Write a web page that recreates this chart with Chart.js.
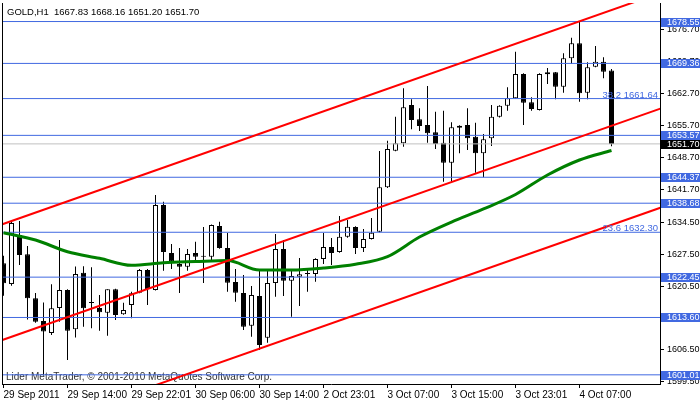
<!DOCTYPE html>
<html>
<head>
<meta charset="utf-8">
<script src="https://cdn.jsdelivr.net/npm/chart.js@4.4.1/dist/chart.umd.min.js"></script>
<style>
  html, body { margin: 0; padding: 0; background: #fff; }
  #wrap { width: 700px; height: 402px; }
</style>
</head>
<body>
<div id="wrap"><canvas id="goldChart" width="700" height="402"></canvas></div>
<script>
// GOLD H1 bars, one per hour, oldest first
const opens  = [1625.49,1620.94,1631.70,1627.46,1617.80,1612.82,1610.19,1615.67,1619.63,1610.99,
                1623.42,1616.80,1615.67,1614.64,1619.78,1614.29,1616.33,1619.03,1624.02,1619.63,
                1638.28,1627.75,1625.33,1624.74,1627.75,1626.93,1626.93,1633.67,1628.84,1621.38,
                1618.97,1611.79,1618.31,1609.15,1621.16,1628.62,1621.67,1622.55,1623.36,1623.14,
                1626.43,1629.06,1627.97,1631.32,1633.45,1628.84,1630.82,1632.42,1642.17,1650.20,
                1651.83,1660.23,1657.09,1655.84,1654.24,1651.96,1647.57,1655.25,1655.84,1653.27,
                1649.63,1652.92,1657.66,1660.08,1661.70,1667.04,1660.83,1659.13,1666.97,1667.41,
                1664.25,1670.48,1673.78,1662.93,1668.64,1669.74,1667.83];
const highs  = [1627.15,1634.99,1634.77,1629.28,1618.97,1616.88,1620.88,1630.60,1619.80,1624.78,
                1624.83,1624.61,1618.53,1619.78,1619.90,1616.84,1619.25,1624.24,1624.24,1640.48,
                1639.01,1629.72,1628.84,1628.62,1630.23,1633.45,1634.00,1634.62,1632.14,1624.24,
                1622.92,1620.50,1624.02,1624.02,1631.92,1630.60,1624.02,1626.65,1624.45,1626.60,
                1632.14,1631.04,1635.87,1634.99,1633.60,1633.01,1635.43,1650.14,1652.40,1657.66,
                1663.90,1661.48,1659.51,1664.40,1658.76,1658.98,1656.44,1655.80,1659.51,1656.35,
                1653.87,1660.23,1660.20,1664.12,1671.93,1667.20,1661.92,1667.19,1668.35,1667.50,
                1671.58,1675.01,1678.55,1669.61,1673.18,1670.70,1668.16];
const lows   = [1618.37,1620.57,1625.11,1613.15,1612.45,1601.01,1609.75,1612.67,1604.26,1609.20,
                1611.55,1611.22,1610.69,1609.59,1613.04,1614.20,1613.41,1618.90,1616.33,1619.50,
                1623.86,1624.24,1618.97,1623.86,1625.84,1621.16,1626.21,1628.70,1619.25,1617.06,
                1610.85,1609.37,1606.46,1608.06,1618.15,1618.31,1613.76,1616.11,1619.25,1621.45,
                1625.33,1625.11,1627.80,1631.10,1627.53,1627.97,1630.70,1632.30,1642.00,1650.10,
                1651.08,1654.90,1654.53,1651.96,1650.57,1643.40,1643.40,1649.63,1650.36,1645.37,
                1644.36,1651.23,1657.50,1658.98,1661.60,1655.84,1658.98,1659.00,1664.84,1661.48,
                1662.93,1669.23,1660.96,1661.48,1668.51,1666.09,1651.20];
const closes = [1621.10,1634.33,1627.31,1617.80,1612.67,1610.52,1615.61,1619.63,1610.69,1623.14,
                1615.61,1616.90,1614.73,1619.78,1614.14,1615.23,1618.90,1624.02,1619.85,1638.28,
                1627.97,1625.84,1624.74,1627.53,1626.93,1627.00,1633.89,1628.84,1621.23,1619.03,
                1611.57,1618.53,1607.55,1621.16,1628.62,1621.67,1622.70,1623.07,1623.14,1626.43,
                1629.06,1627.75,1631.32,1633.52,1628.84,1630.82,1632.20,1642.17,1650.57,1651.83,
                1659.73,1656.94,1655.62,1654.02,1651.67,1647.57,1655.34,1655.69,1652.92,1649.63,
                1652.70,1657.66,1660.08,1661.70,1667.04,1660.74,1659.36,1667.04,1667.41,1664.25,
                1670.48,1673.78,1662.80,1668.51,1669.74,1667.54,1651.70];

// moving average (green), read every 4 bars
const maIdx  = [0, 4, 8, 12, 16, 20, 24, 28, 32, 36, 40, 44, 48, 52, 56, 60, 64, 68, 72, 76];
const maVals = [1632.20,1630.60,1628.03,1626.58,1625.05,1625.62,1625.88,1626.10,1624.02,1624.02,
                1624.46,1625.29,1626.95,1631.26,1634.55,1637.41,1640.59,1644.87,1648.16,1650.24];

// red trend channel: price at bar -1 and bar 83
const chanIdx   = [-1, 83];
const chanUpper = [1633.54, 1685.39];
const chanMid   = [1608.14, 1659.99];
const chanLower = [1586.39, 1638.24];

// horizontal levels
const levels    = [1678.55, 1669.36, 1661.64, 1653.57, 1644.37, 1638.68, 1632.30, 1622.45, 1613.60, 1601.01];
const boxLevels = [1678.55, 1669.36, 1653.57, 1644.37, 1638.68, 1622.45, 1613.60, 1601.01];
const fibLevels = [1661.64, 1632.30];
const fibPct    = ['38.2', '23.6'];
const bid = 1651.70;

// axis ticks
const xTickIdx    = [0, 8, 16, 24, 32, 40, 48, 56, 64, 72];
const xTickLabels = ['29 Sep 2011', '29 Sep 14:00', '29 Sep 22:01', '30 Sep 06:00', '30 Sep 14:00',
                     '2 Oct 23:01', '3 Oct 07:00', '3 Oct 15:00', '3 Oct 23:01', '4 Oct 07:00'];
const yTicks = [1599.50, 1606.50, 1613.50, 1620.50, 1627.50, 1634.50, 1641.70, 1648.70, 1655.70, 1662.70, 1669.70, 1676.70];

const title = 'GOLD,H1  1667.83 1668.16 1651.20 1651.70';
const copyright = 'Lider MetaTrader, \u00a9 2001-2010 MetaQuotes Software Corp.';

const FONT = "'Liberation Sans', Arial, sans-serif";
const BLUE = '#4169e1';

Chart.defaults.font.family = FONT;
Chart.defaults.font.size = 9;
Chart.defaults.color = '#000';

function line(xs, ys, color, width) {
    return {
        type: 'line',
        data: xs.map((x, i) => ({x: x, y: ys[i]})),
        borderColor: color,
        borderWidth: width,
        pointRadius: 0,
        fill: false,
        tension: 0
    };
}

const levelSets = levels.map(v => line(chanIdx, [v, v], BLUE, 1));

const maSet = line(maIdx, maVals, '#008000', 3);
maSet.cubicInterpolationMode = 'monotone';

const bodies = {
    type: 'bar',
    data: opens.map((o, i) => ({x: i, y: [o, closes[i]]})),
    backgroundColor: opens.map((o, i) => closes[i] >= o ? '#ffffff' : '#000000'),
    borderColor: '#000',
    borderWidth: 1,
    borderSkipped: false,
    barThickness: 5,
    minBarLength: 1,
    inflateAmount: 0,
    grouped: false
};

const wicks = {
    type: 'bar',
    data: lows.map((l, i) => ({x: i, y: [l, highs[i]]})),
    backgroundColor: '#000',
    borderWidth: 0,
    barThickness: 1,
    inflateAmount: 0,
    grouped: false
};

// text and price boxes drawn like the terminal does
const overlay = {
    id: 'overlay',
    beforeDatasetsDraw(chart) {
        const ctx = chart.ctx;
        ctx.save();
        ctx.font = '10px ' + FONT;
        ctx.fillStyle = '#303030';
        ctx.fillText(copyright, 6, 380);
        ctx.restore();
    },
    afterDraw(chart) {
        const ctx = chart.ctx;
        const a = chart.chartArea;
        const y = chart.scales.y;
        ctx.save();
        ctx.strokeStyle = '#000';
        ctx.lineWidth = 1;
        ctx.beginPath();
        ctx.moveTo(a.left + 0.5, a.top);
        ctx.lineTo(a.left + 0.5, a.bottom);
        ctx.stroke();

        ctx.font = '9.5px ' + FONT;
        ctx.fillStyle = '#000';
        ctx.fillText(title, 7, 15);

        ctx.fillStyle = BLUE;
        ctx.textAlign = 'right';
        fibLevels.forEach((v, k) => {
            ctx.fillText(fibPct[k] + ' ' + v.toFixed(2), a.right - 2, Math.round(y.getPixelForValue(v)) - 1);
        });

        ctx.font = '9px ' + FONT;
        ctx.textAlign = 'left';
        ctx.textBaseline = 'middle';
        boxLevels.forEach(v => {
            const py = Math.round(y.getPixelForValue(v));
            ctx.fillStyle = BLUE;
            ctx.fillRect(a.right + 1, py - 4, 39, 9);
            ctx.fillStyle = '#fff';
            ctx.fillText(v.toFixed(2), a.right + 7, py + 0.5);
        });
        const pb = Math.round(y.getPixelForValue(bid));
        ctx.fillStyle = '#000';
        ctx.fillRect(a.right + 1, pb - 4, 39, 9);
        ctx.fillStyle = '#fff';
        ctx.fillText(bid.toFixed(2), a.right + 7, pb + 0.5);
        ctx.restore();
    }
};

const chart = new Chart(document.getElementById('goldChart').getContext('2d'), {
    type: 'bar',
    data: {
        datasets: [
            line(chanIdx, chanUpper, '#ff0000', 2),
            line(chanIdx, chanMid, '#ff0000', 2),
            line(chanIdx, chanLower, '#ff0000', 2),
            maSet,
            ...levelSets,
            line(chanIdx, [bid, bid], '#c0c0c0', 1),
            bodies,
            wicks
        ]
    },
    options: {
        responsive: false,
        animation: false,
        devicePixelRatio: 1,
        layout: { padding: { left: 2, top: 3, right: 0, bottom: 0 } },
        plugins: {
            legend: { display: false },
            tooltip: { enabled: false }
        },
        scales: {
            x: {
                type: 'linear',
                min: -0.1875,
                max: 82.0625,
                offset: false,
                afterBuildTicks: s => { s.ticks = xTickIdx.map(v => ({value: v})); },
                afterFit: s => {
                    s.height = 18;
                    s.paddingLeft = 0; s.paddingRight = 0;
                },
                ticks: {
                    autoSkip: false,
                    maxRotation: 0,
                    align: 'start',
                    padding: 1,
                    color: '#000',
                    font: { size: 10 },
                    callback: (v, i) => xTickLabels[i]
                },
                grid: { offset: false, drawOnChartArea: false, drawTicks: true, tickLength: 4, color: '#000' },
                border: { display: true, color: '#000', width: 1 }
            },
            y: {
                position: 'right',
                min: 1599.0,
                max: 1682.62,
                beginAtZero: false,
                afterBuildTicks: s => { s.ticks = yTicks.map(v => ({value: v})); },
                afterFit: s => {
                    s.width = 40;
                    s.paddingTop = 0; s.paddingBottom = 0;
                },
                ticks: {
                    padding: 3,
                    color: '#000',
                    font: { size: 9 },
                    callback: v => v.toFixed(2)
                },
                grid: { drawOnChartArea: false, drawTicks: true, tickLength: 4, color: '#000' },
                border: { display: true, color: '#000', width: 1 }
            }
        }
    },
    plugins: [overlay]
});
</script>
</body>
</html>
